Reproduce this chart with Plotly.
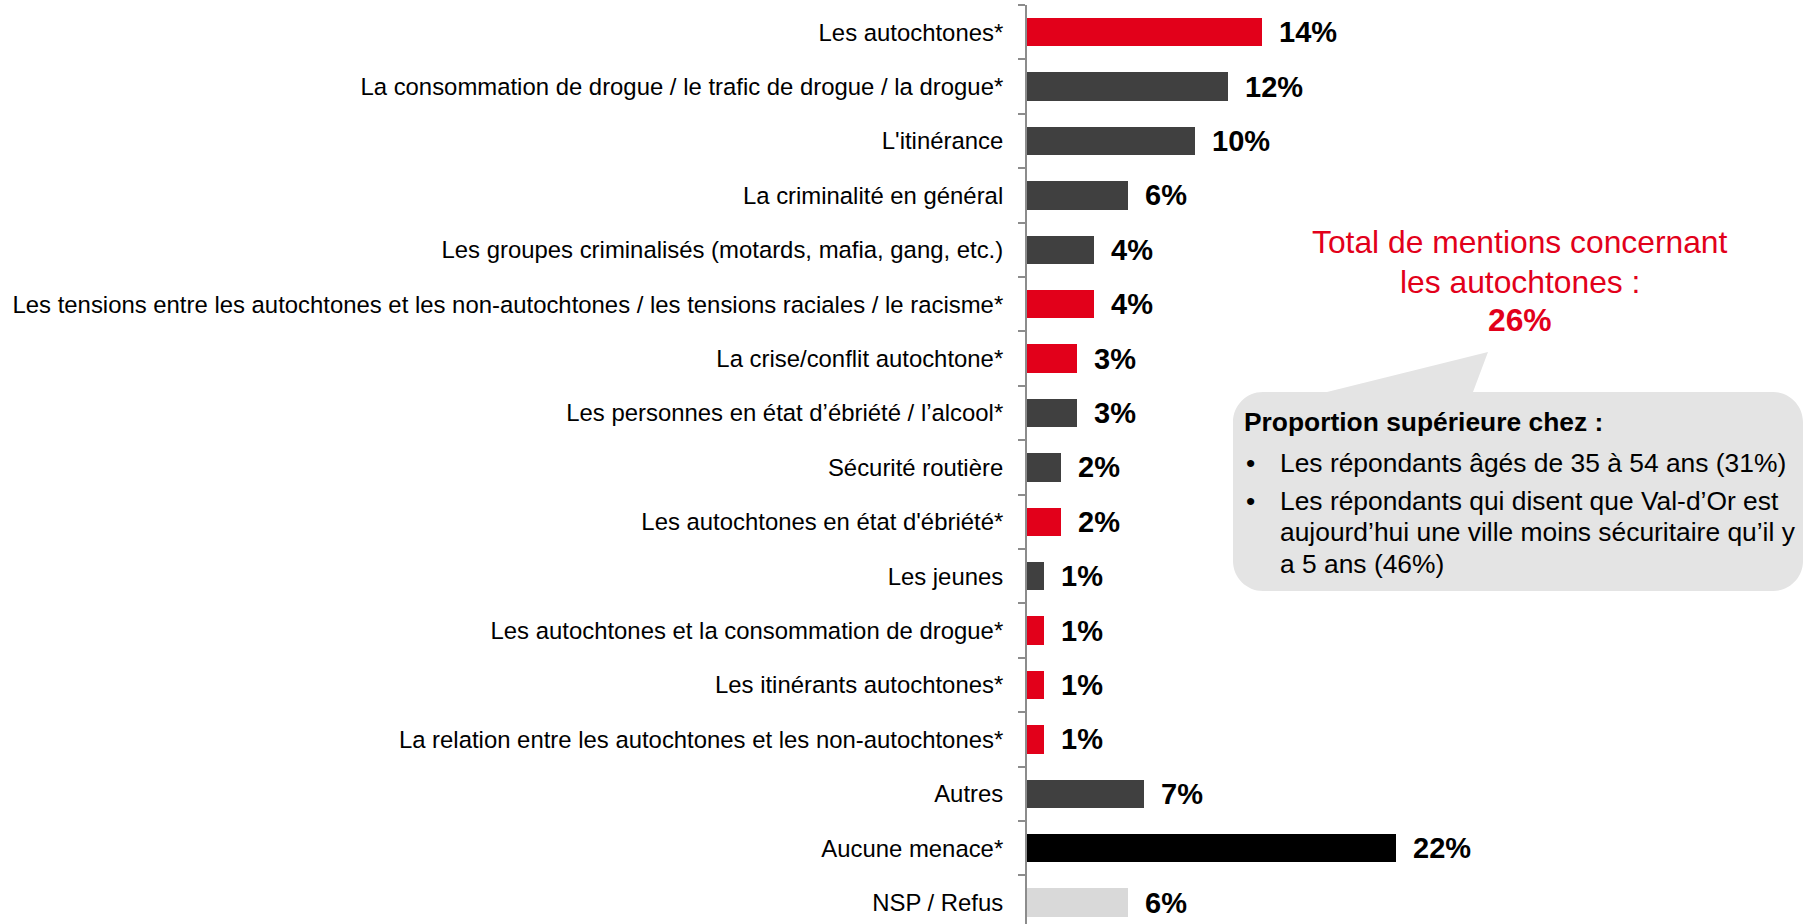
import plotly.graph_objects as go

categories = [
    "Les autochtones*",
    "La consommation de drogue / le trafic de drogue / la drogue*",
    "L'itinérance",
    "La criminalité en général",
    "Les groupes criminalisés (motards, mafia, gang, etc.)",
    "Les tensions entre les autochtones et les non-autochtones / les tensions raciales / le racisme*",
    "La crise/conflit autochtone*",
    "Les personnes en état d’ébriété / l’alcool*",
    "Sécurité routière",
    "Les autochtones en état d'ébriété*",
    "Les jeunes",
    "Les autochtones et la consommation de drogue*",
    "Les itinérants autochtones*",
    "La relation entre les autochtones et les non-autochtones*",
    "Autres",
    "Aucune menace*",
    "NSP / Refus",
]
values = [14, 12, 10, 6, 4, 4, 3, 3, 2, 2, 1, 1, 1, 1, 7, 22, 6]
groups = ["auto", "other", "other", "other", "other", "auto", "auto", "other",
          "other", "auto", "other", "auto", "auto", "auto", "other", "none", "nsp"]

callout_title = ["Total de mentions concernant", "les autochtones :", "<b>26%</b>"]
box_header = "Proportion supérieure chez :"
box_lines = [
    ("•", "Les répondants âgés de 35 à 54 ans (31%)"),
    ("•", "Les répondants qui disent que Val-d’Or est"),
    ("", "aujourd’hui une ville moins sécuritaire qu’il y"),
    ("", "a 5 ans (46%)"),
]

COLORS = {"auto": "#E2001A", "other": "#404040", "none": "#000000", "nsp": "#D9D9D9"}
FONT = "Liberation Sans, Arial, sans-serif"

W, H = 1813, 924
ML, MR, MT, MB = 1027, 0, 5, 0
PW, PH = W - ML - MR, H - MT - MB
PX_PER_UNIT = 16.75
CAT_H = 54.4


def px(xp):
    return (xp - ML) / PW


def py(yp):
    return (H - MB - yp) / PH


fig = go.Figure()
fig.add_trace(go.Bar(
    x=values, y=categories, orientation="h",
    marker=dict(color=[COLORS[g] for g in groups], line=dict(width=0)),
    width=0.52, hoverinfo="skip",
))

annotations = []
for c, v in zip(categories, values):
    annotations.append(dict(
        x=v, y=c, xref="x", yref="y", text=f"<b>{v}%</b>", showarrow=False,
        xanchor="left", yanchor="middle", xshift=15,
        font=dict(family=FONT, size=29, color="#000000"),
    ))

# red title
for txt, yc in zip(callout_title, [242, 282, 320]):
    annotations.append(dict(
        x=px(1520), y=py(yc), xref="paper", yref="paper", text=txt, showarrow=False,
        xanchor="center", yanchor="middle",
        font=dict(family=FONT, size=31.8, color="#E2001A"),
    ))

# box texts
annotations.append(dict(
    x=px(1242), y=py(422), xref="paper", yref="paper", text=f"<b>{box_header}</b>",
    showarrow=False, xanchor="left", yanchor="middle",
    font=dict(family=FONT, size=26.4, color="#000000"),
))
for (b, t), yc in zip(box_lines, [463, 501, 532, 564]):
    if b:
        annotations.append(dict(
            x=px(1244), y=py(yc), xref="paper", yref="paper", text=b, showarrow=False,
            xanchor="left", yanchor="middle",
            font=dict(family=FONT, size=26.4, color="#000000"),
        ))
    annotations.append(dict(
        x=px(1278), y=py(yc), xref="paper", yref="paper", text=t, showarrow=False,
        xanchor="left", yanchor="middle",
        font=dict(family=FONT, size=26.4, color="#000000"),
    ))

# rounded callout box with pointer
x0, x1, y0, y1, r = 1233, 1803, 392, 591, 30
k = 0.5523 * r
pts = [
    ("M", (x0 + r, y0)),
    ("L", (1327, y0)), ("L", (1488, 352)), ("L", (1473, y0)),
    ("L", (x1 - r, y0)),
    ("C", (x1 - r + k, y0), (x1, y0 + r - k), (x1, y0 + r)),
    ("L", (x1, y1 - r)),
    ("C", (x1, y1 - r + k), (x1 - r + k, y1), (x1 - r, y1)),
    ("L", (x0 + r, y1)),
    ("C", (x0 + r - k, y1), (x0, y1 - r + k), (x0, y1 - r)),
    ("L", (x0, y0 + r)),
    ("C", (x0, y0 + r - k), (x0 + r - k, y0), (x0 + r, y0)),
]
path = ""
for cmd, *ps in pts:
    path += cmd + " " + " ".join(f"{px(a):.5f},{py(b):.5f}" for a, b in ps) + " "
path += "Z"
shapes = [dict(type="path", path=path, xref="paper", yref="paper",
               fillcolor="#E4E4E4", line=dict(width=0), layer="below")]

fig.update_layout(
    width=W, height=H,
    margin=dict(l=ML, r=MR, t=MT, b=MB, pad=0),
    paper_bgcolor="white", plot_bgcolor="white",
    showlegend=False,
    annotations=annotations, shapes=shapes,
    xaxis=dict(range=[0, PW / PX_PER_UNIT], visible=False, fixedrange=True),
    yaxis=dict(
        type="category", categoryorder="array", categoryarray=categories,
        range=[-0.5 + PH / CAT_H, -0.5],
        showline=True, linecolor="#8C8C8C", linewidth=2,
        ticks="outside", tickson="boundaries", ticklen=7, tickcolor="#8C8C8C", tickwidth=2,
        ticklabelstandoff=17,
        tickfont=dict(family=FONT, size=23.9, color="#000000"),
        showgrid=False, zeroline=False, fixedrange=True,
    ),
    bargap=0,
)

fig.write_html(
    "out.html",
    config={"displayModeBar": False, "staticPlot": True},
    post_script="document.body.style.margin='0';document.body.style.overflow='hidden';",
)
